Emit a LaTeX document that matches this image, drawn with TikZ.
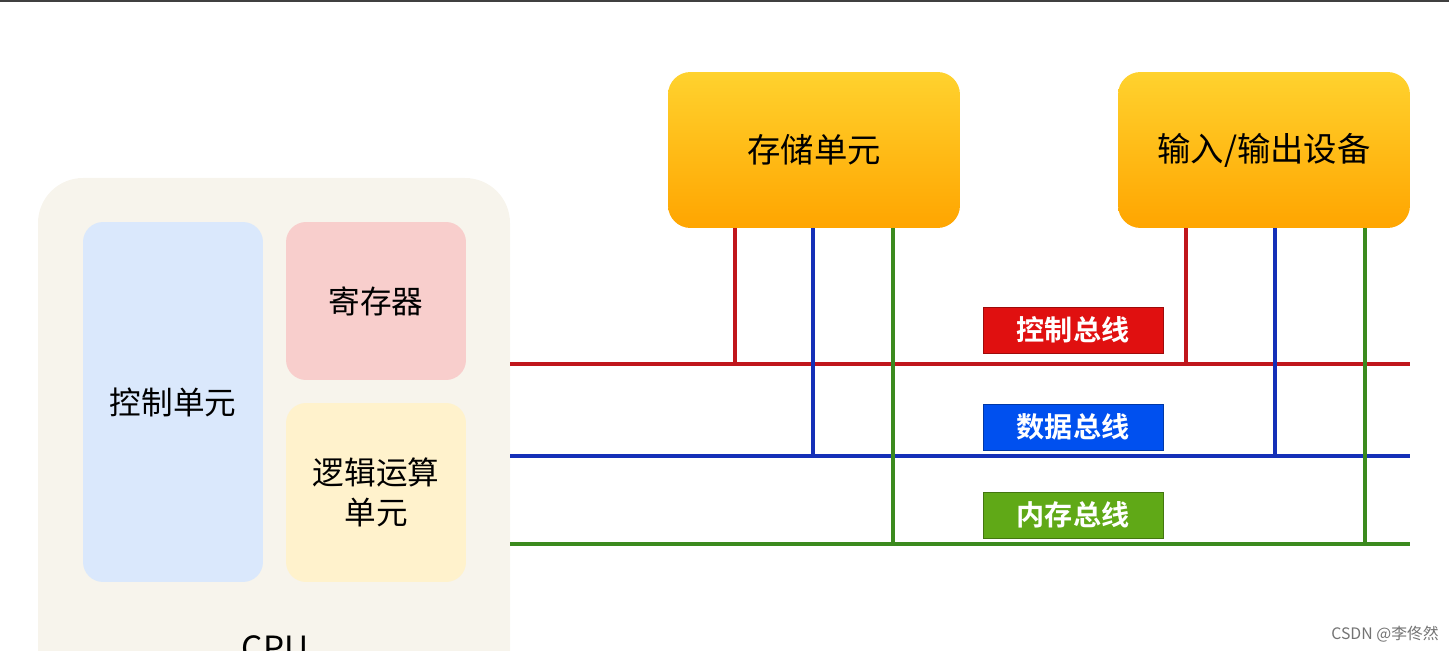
\documentclass[tikz,border=0pt]{standalone}
\usepackage{fontspec}
\setmainfont{Noto Sans CJK SC}[BoldFont={* Bold}]
\usetikzlibrary{positioning}
\definecolor{cpubg}{HTML}{F7F4EC}
\definecolor{ctlblue}{HTML}{DAE8FC}
\definecolor{regpink}{HTML}{F8CECC}
\definecolor{alucream}{HTML}{FFF2CC}
\definecolor{orgtop}{HTML}{FFD22E}
\definecolor{orgbot}{HTML}{FFA500}
\definecolor{busred}{HTML}{C0161C}
\definecolor{busblue}{HTML}{1530B8}
\definecolor{busgreen}{HTML}{3B8A1E}
\definecolor{lblred}{HTML}{E01010}
\definecolor{lblblue}{HTML}{0050EF}
\definecolor{lblgreen}{HTML}{60A917}
\tikzset{
  block/.style={rounded corners=0.4cm, minimum width=3.6cm, font=\fontsize{18}{23}\selectfont, align=center, inner sep=0pt},
  unit/.style={rounded corners=0.45cm, top color=orgtop, bottom color=orgbot, minimum width=5.84cm, minimum height=3.12cm, font=\fontsize{19}{23}\selectfont},
  buslabel/.style={draw=#1!70!black, fill=#1, text=white, minimum width=3.6cm, minimum height=0.92cm, inner sep=0pt, font=\bfseries\fontsize{16}{19}\selectfont},
  bus/.style={line width=2pt}
}
\begin{document}
\begin{tikzpicture}[x=0.02cm, y=-0.02cm]
    \useasboundingbox (0,0) rectangle (1449,651);
    \clip (0,0) rectangle (1449,651);
    \draw[line width=1.5pt, black!75] (0,1) -- (1449,1);

    % CPU
    \fill[cpubg, rounded corners=0.9cm] (38,178) rectangle (510,720);
    \node[block, fill=ctlblue, minimum height=7.2cm] (ctl) at (173,402) {控制单元};
    \node[block, fill=regpink, minimum height=3.16cm] (reg) at (376,301) {寄存器};
    \node[block, fill=alucream, minimum height=3.58cm] (alu) at (376,492.5) {逻辑运算\\单元};
    \node[font=\fontsize{19}{22}\selectfont] (cpu) at (275,648) {CPU};

    % units
    \node[unit] (mem) at (814,150) {存储单元};
    \node[unit] (io) at (1264,150) {输入/输出设备};

    % buses
    \coordinate (redL) at (510,364);   \coordinate (redR) at (1410,364);
    \coordinate (blueL) at (510,456);  \coordinate (blueR) at (1410,456);
    \coordinate (greenL) at (510,544); \coordinate (greenR) at (1410,544);
    \draw[bus, busred] (redL) -- (redR);
    \draw[bus, busblue] (blueL) -- (blueR);
    \draw[bus, busgreen] (greenL) -- (greenR);

    \foreach \u/\xr/\xb/\xg in {mem/735/813/893, io/1186/1275/1365} {
        \draw[bus, busred] (\u.south -| \xr,0) -- (\xr,364);
        \draw[bus, busblue] (\u.south -| \xb,0) -- (\xb,456);
        \draw[bus, busgreen] (\u.south -| \xg,0) -- (\xg,544);
    }

    \node[buslabel=lblred] (ctlbus) at (1073,330) {控制总线};
    \node[buslabel=lblblue] (databus) at (1073,427) {数据总线};
    \node[buslabel=lblgreen] (membus) at (1073,515) {内存总线};

    \node[text=black!55, font=\fontsize{9}{10}\selectfont] (mark) at (1385,634) {CSDN @李佟然};
\end{tikzpicture}
\end{document}
